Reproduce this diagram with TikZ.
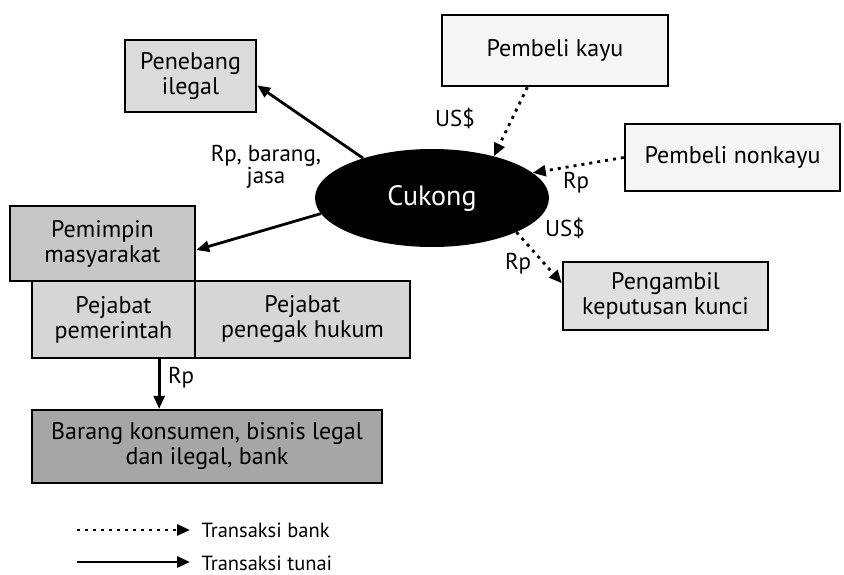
\documentclass[tikz,border=0pt]{standalone}
\usepackage{fontspec}
\setmainfont{PT Sans}
\usetikzlibrary{arrows.meta,shapes.geometric}

\begin{document}
\begin{tikzpicture}[
  x=1pt, y=-1pt,
  box/.style={draw, rectangle, line width=2.4pt, align=center, inner sep=0pt,
              font=\fontsize{24}{25}\selectfont},
  arrow/.style={-{Triangle[length=13pt,width=11pt]}, line width=2.8pt},
  dotarrow/.style={arrow, dash pattern=on 3pt off 5pt},
  lbl/.style={align=center, font=\fontsize{23}{21}\selectfont},
  every node/.style={font=\fontsize{20.5}{21}\selectfont}
]
\useasboundingbox (0,0) rectangle (844,575);

% Cukong in the middle
\node[ellipse, fill=black, text=white, minimum width=234pt, minimum height=98pt,
      inner sep=0pt, font=\fontsize{28}{28}\selectfont] (cukong) at (432,198) {Cukong};

% Top row
\node[box, fill=black!14, minimum width=131pt, minimum height=72pt] (penebang) at (190.5,76) {Penebang\\ilegal};
\node[box, fill=black!4, minimum width=226pt, minimum height=71pt] (kayu) at (555,50.5) {Pembeli kayu};
\node[box, fill=black!4, minimum width=215pt, minimum height=67pt] (nonkayu) at (732.5,157.5) {Pembeli nonkayu};

% Left block
\node[box, fill=black!22, minimum width=185pt, minimum height=75pt] (pemimpin) at (102.5,243.5) {Pemimpin\\masyarakat};
\node[box, fill=black!16, minimum width=163pt, minimum height=77pt] (pejpem) at (113.5,319.5) {Pejabat\\pemerintah};
\node[box, fill=black!16, minimum width=215pt, minimum height=77pt] (pejhuk) at (302.5,319.5) {Pejabat\\penegak hukum};
\node[box, fill=black!35, minimum width=350pt, minimum height=73pt] (barang) at (207,446.5) {Barang konsumen, bisnis legal\\dan ilegal, bank};

% Right
\node[box, fill=black!12, minimum width=205pt, minimum height=68pt] (pengambil) at (665.5,296) {Pengambil\\keputusan kunci};

% Cash flows
\draw[arrow] (cukong.150) -- (penebang.-8);
\draw[arrow] (cukong.188) -- (pemimpin.-4);
\draw[arrow] (pejpem.-41.5) -- (pejpem.-41.5 |- barang.north);

% Bank flows
\draw[dotarrow] (kayu.233) -- (cukong.34);
\draw[dotarrow] (nonkayu.west) -- (cukong.14);
\draw[dotarrow] (cukong.-22) -- (pengambil.173);

% Labels
\node[lbl] (rpbarang) at (266,167) {Rp, barang,\\jasa};
\node[lbl] (usd1) at (455,118) {US\$};
\node[lbl] (rp1) at (576,183) {Rp};
\node[lbl] (usd2) at (565,228) {US\$};
\node[lbl] (rp2) at (518,264) {Rp};
\node[lbl] (rp3) at (181,378) {Rp};

% Legend
\coordinate (bankA) at (77,530);
\coordinate (bankB) at (190,530);
\coordinate (tunaiA) at (77,562);
\coordinate (tunaiB) at (190,562);
\draw[dotarrow] (bankA) -- (bankB);
\draw[arrow] (tunaiA) -- (tunaiB);
\node[anchor=west] (bank) at (198,530) {Transaksi bank};
\node[anchor=west] (tunai) at (198,563) {Transaksi tunai};

\end{tikzpicture}
\end{document}
